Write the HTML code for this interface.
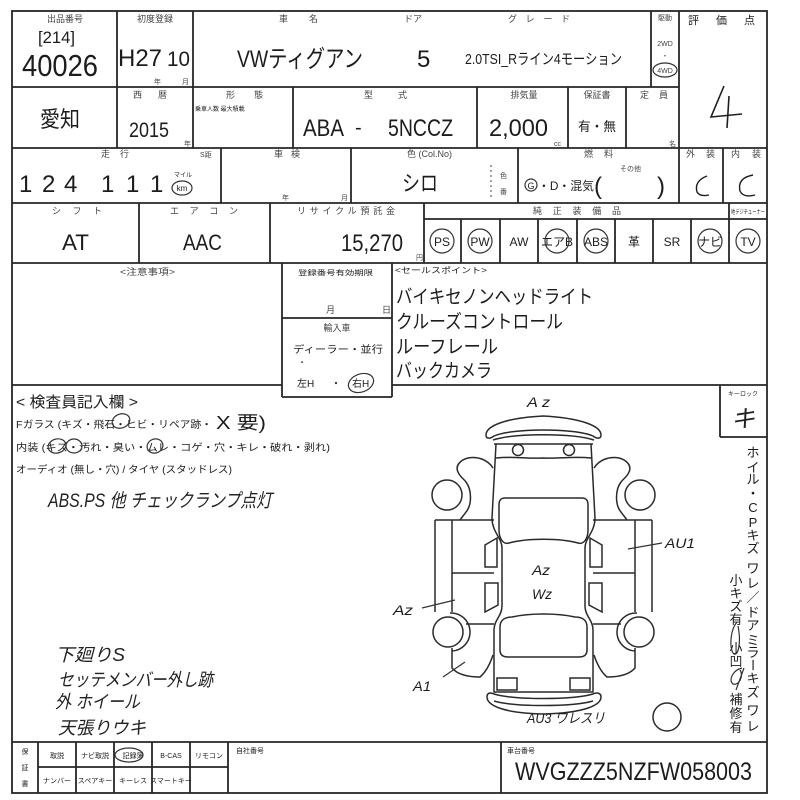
<!DOCTYPE html>
<html><head><meta charset="utf-8">
<style>
html,body{margin:0;padding:0;background:#fff;}
svg{display:block;}
text{font-family:"Liberation Sans","Noto Sans CJK JP",sans-serif;fill:#1c1c1c;}
.h{font-size:9px;fill:#444;}
.s{font-size:7px;fill:#444;}
.hw{font-style:italic;fill:#222;}
.ln{stroke:#262626;stroke-width:1.8;fill:none;}
.tn{stroke:#333;stroke-width:1.2;fill:none;}
.car{stroke:#2a2a2a;stroke-width:1.5;fill:none;}
</style></head>
<body>
<svg width="800" height="800" viewBox="0 0 800 800" xmlns="http://www.w3.org/2000/svg">
<rect width="800" height="800" fill="#fff"/>

<!-- ===== GRID ===== -->
<g class="ln">
<rect x="12" y="11" width="755" height="782"/>
<line x1="12" y1="87" x2="679" y2="87"/>
<line x1="12" y1="148" x2="767" y2="148"/>
<line x1="12" y1="203" x2="767" y2="203"/>
<line x1="424" y1="219" x2="767" y2="219"/>
<line x1="12" y1="263" x2="767" y2="263"/>
<line x1="12" y1="385" x2="282" y2="385"/>
<line x1="392" y1="385" x2="767" y2="385"/>
<line x1="282" y1="318" x2="392" y2="318"/>
<line x1="282" y1="397" x2="392" y2="397"/>
<line x1="720" y1="437" x2="767" y2="437"/>
<line x1="12" y1="742" x2="767" y2="742"/>
<line x1="38" y1="767" x2="228" y2="767"/>
<!-- row1 -->
<line x1="117" y1="11" x2="117" y2="148"/>
<line x1="193" y1="11" x2="193" y2="148"/>
<line x1="651" y1="11" x2="651" y2="87"/>
<line x1="679" y1="11" x2="679" y2="203"/>
<!-- row2 -->
<line x1="293" y1="87" x2="293" y2="148"/>
<line x1="477" y1="87" x2="477" y2="148"/>
<line x1="568" y1="87" x2="568" y2="148"/>
<line x1="626" y1="87" x2="626" y2="148"/>
<!-- row3 -->
<line x1="221" y1="148" x2="221" y2="203"/>
<line x1="351" y1="148" x2="351" y2="203"/>
<line x1="518" y1="148" x2="518" y2="203"/>
<line x1="723" y1="148" x2="723" y2="203"/>
<!-- row4 -->
<line x1="139" y1="203" x2="139" y2="263"/>
<line x1="270" y1="203" x2="270" y2="263"/>
<line x1="424" y1="203" x2="424" y2="263"/>
<line x1="461" y1="219" x2="461" y2="263"/>
<line x1="500" y1="219" x2="500" y2="263"/>
<line x1="538" y1="219" x2="538" y2="263"/>
<line x1="577" y1="219" x2="577" y2="263"/>
<line x1="615" y1="219" x2="615" y2="263"/>
<line x1="653" y1="219" x2="653" y2="263"/>
<line x1="691" y1="219" x2="691" y2="263"/>
<line x1="729" y1="203" x2="729" y2="263"/>
<!-- row5 -->
<line x1="282" y1="263" x2="282" y2="397"/>
<line x1="392" y1="263" x2="392" y2="397"/>
<line x1="720" y1="385" x2="720" y2="437"/>
<!-- bottom -->
<line x1="38" y1="742" x2="38" y2="793"/>
<line x1="76" y1="742" x2="76" y2="793"/>
<line x1="114" y1="742" x2="114" y2="793"/>
<line x1="152" y1="742" x2="152" y2="793"/>
<line x1="190" y1="742" x2="190" y2="793"/>
<line x1="228" y1="742" x2="228" y2="793"/>
<line x1="501" y1="742" x2="501" y2="793"/>
</g>
<line x1="491" y1="165" x2="491" y2="200" stroke="#444" stroke-width="1" stroke-dasharray="2,3"/>

<!-- ===== ROW 1 ===== -->
<text class="h" x="65" y="22" text-anchor="middle">出品番号</text>
<text x="38" y="43" font-size="17" textLength="37" lengthAdjust="spacingAndGlyphs">[214]</text>
<text x="22" y="76" font-size="31" textLength="76" lengthAdjust="spacingAndGlyphs">40026</text>
<text class="h" x="155" y="22" text-anchor="middle">初度登録</text>
<text x="118" y="66" font-size="24" textLength="44" lengthAdjust="spacingAndGlyphs">H27</text>
<text x="167" y="66" font-size="21" textLength="23" lengthAdjust="spacingAndGlyphs">10</text>
<text class="s" x="154" y="84">年</text>
<text class="s" x="182" y="84">月</text>
<text class="h" x="279" y="22">車</text>
<text class="h" x="309" y="22">名</text>
<text x="237" y="67" font-size="24" textLength="126" lengthAdjust="spacingAndGlyphs">VWティグアン</text>
<text class="h" x="404" y="22">ドア</text>
<text x="417" y="67" font-size="24">5</text>
<text class="h" x="508" y="22" textLength="62" lengthAdjust="spacing">グレード</text>
<text x="465" y="64" font-size="15" textLength="157" lengthAdjust="spacingAndGlyphs">2.0TSI_Rライン4モーション</text>
<text class="s" x="665" y="20" text-anchor="middle">駆動</text>
<text class="s" x="665" y="46" text-anchor="middle">2WD</text>
<text class="s" x="665" y="58" text-anchor="middle">・</text>
<text class="s" x="665" y="73" text-anchor="middle">4WD</text>
<ellipse cx="665" cy="70" rx="12" ry="7" class="tn"/>
<text x="688" y="24" font-size="11" fill="#444">評</text>
<text x="716" y="24" font-size="11" fill="#444">価</text>
<text x="744" y="24" font-size="11" fill="#444">点</text>
<path d="M724,86 L711,117 L742,114 M729,96 L727,128" stroke="#1e1e1e" stroke-width="1.6" fill="none"/>

<!-- ===== ROW 2 ===== -->
<text x="40" y="127" font-size="22" textLength="40" lengthAdjust="spacingAndGlyphs">愛知</text>
<text class="h" x="133" y="98">西</text>
<text class="h" x="158" y="98">暦</text>
<text x="129" y="137" font-size="21" textLength="40" lengthAdjust="spacingAndGlyphs">2015</text>
<text class="s" x="184" y="146">年</text>
<text class="h" x="226" y="98">形</text>
<text class="h" x="254" y="98">態</text>
<text x="195" y="111" font-size="6" fill="#444">乗車人数 最大積載</text>
<text class="h" x="364" y="98">型</text>
<text class="h" x="398" y="98">式</text>
<text x="303" y="136" font-size="24" textLength="41" lengthAdjust="spacingAndGlyphs">ABA</text>
<text x="355" y="134" font-size="20">-</text>
<text x="388" y="136" font-size="24" textLength="65" lengthAdjust="spacingAndGlyphs">5NCCZ</text>
<text class="h" x="524" y="98" text-anchor="middle">排気量</text>
<text x="489" y="136" font-size="24" textLength="59" lengthAdjust="spacingAndGlyphs">2,000</text>
<text class="s" x="554" y="146">cc</text>
<text class="h" x="597" y="98" text-anchor="middle">保証書</text>
<text x="578" y="131" font-size="13" textLength="38" lengthAdjust="spacingAndGlyphs">有・無</text>
<text class="h" x="640" y="98">定</text>
<text class="h" x="659" y="98">員</text>
<text class="s" x="669" y="146">名</text>

<!-- ===== ROW 3 ===== -->
<text class="h" x="101" y="157">走</text>
<text class="h" x="120" y="157">行</text>
<text class="s" x="200" y="157">S距</text>
<text x="19 42 64 101 126 150" y="192" font-size="24">124111</text>
<text x="183" y="177" font-size="6" fill="#444" text-anchor="middle">マイル</text>
<ellipse cx="182" cy="188" rx="10" ry="7" class="tn"/>
<text x="182" y="191" font-size="8" text-anchor="middle">km</text>
<text class="h" x="274" y="157">車</text>
<text class="h" x="291" y="157">検</text>
<text class="s" x="282" y="200">年</text>
<text class="s" x="341" y="200">月</text>
<text class="h" x="407" y="157">色 (Col.No)</text>
<text x="402" y="191" font-size="22" textLength="36" lengthAdjust="spacingAndGlyphs">シロ</text>
<text class="s" x="500" y="178">色</text>
<text class="s" x="500" y="194">番</text>
<text class="h" x="584" y="157">燃</text>
<text class="h" x="604" y="157">料</text>
<circle cx="531" cy="185" r="6" class="tn"/>
<text x="531" y="189" font-size="9" text-anchor="middle">G</text>
<text x="538" y="190" font-size="12" textLength="56" lengthAdjust="spacingAndGlyphs">・D・混気</text>
<text x="594" y="194" font-size="24">(</text>
<text class="s" x="620" y="171">その他</text>
<text x="657" y="194" font-size="24">)</text>
<text class="h" x="686" y="157">外</text>
<text class="h" x="706" y="157">装</text>
<text class="h" x="731" y="157">内</text>
<text class="h" x="752" y="157">装</text>
<path d="M707,176 Q694,181 697,192 Q700,197 709,195" stroke="#1e1e1e" stroke-width="1.4" fill="none"/>
<path d="M753,175 Q737,178 740,191 Q743,198 755,195" stroke="#1e1e1e" stroke-width="1.4" fill="none"/>

<!-- ===== ROW 4 ===== -->
<text class="h" x="52" y="214" textLength="50" lengthAdjust="spacing">シフト</text>
<text x="62" y="250" font-size="22" textLength="27" lengthAdjust="spacingAndGlyphs">AT</text>
<text class="h" x="170" y="214" textLength="68" lengthAdjust="spacing">エアコン</text>
<text x="183" y="250" font-size="22" textLength="39" lengthAdjust="spacingAndGlyphs">AAC</text>
<text class="h" x="297" y="214" textLength="98" lengthAdjust="spacing">リサイクル預託金</text>
<text x="341" y="251" font-size="24" textLength="62" lengthAdjust="spacingAndGlyphs">15,270</text>
<text class="s" x="416" y="260">円</text>
<text class="h" x="533" y="214" textLength="88" lengthAdjust="spacing">純正装備品</text>
<text x="731" y="214" font-size="6" fill="#444" textLength="34" lengthAdjust="spacingAndGlyphs">地デジチューナー</text>
<g font-size="12" text-anchor="middle">
<text x="442" y="246">PS</text>
<text x="480" y="246">PW</text>
<text x="519" y="246">AW</text>
<text x="557" y="246">エアB</text>
<text x="596" y="246">ABS</text>
<text x="634" y="246">革</text>
<text x="672" y="246">SR</text>
<text x="710" y="246">ナビ</text>
<text x="748" y="246">TV</text>
</g>
<g class="tn" stroke-width="1.4">
<circle cx="442" cy="241" r="12"/>
<circle cx="480" cy="241" r="12"/>
<circle cx="557" cy="241" r="12"/>
<circle cx="596" cy="241" r="12"/>
<circle cx="710" cy="241" r="12"/>
<circle cx="748" cy="241" r="12"/>
</g>

<!-- ===== ROW 5 ===== -->
<text class="h" x="120" y="275" textLength="55" lengthAdjust="spacingAndGlyphs">&lt;注意事項&gt;</text>
<text x="298" y="275" font-size="7" fill="#444" textLength="75" lengthAdjust="spacingAndGlyphs">登録番号有効期限</text>
<text class="h" x="326" y="313">月</text>
<text class="h" x="382" y="313">日</text>
<text class="h" x="337" y="331" text-anchor="middle">輸入車</text>
<text x="293" y="353" font-size="10" textLength="90" lengthAdjust="spacingAndGlyphs">ディーラー・並行</text>
<text x="298" y="365" font-size="8">・</text>
<text x="297" y="387" font-size="10">左H</text>
<text x="331" y="387" font-size="10">・</text>
<text x="352" y="387" font-size="10">右H</text>
<ellipse cx="361" cy="383" rx="13" ry="9" class="tn" transform="rotate(-20 361 383)"/>
<text x="395" y="273" font-size="8" fill="#333" textLength="92" lengthAdjust="spacingAndGlyphs">&lt;セールスポイント&gt;</text>
<g font-size="19">
<text x="396" y="303" textLength="197" lengthAdjust="spacingAndGlyphs">バイキセノンヘッドライト</text>
<text x="396" y="328" textLength="167" lengthAdjust="spacingAndGlyphs">クルーズコントロール</text>
<text x="396" y="353" textLength="102" lengthAdjust="spacingAndGlyphs">ルーフレール</text>
<text x="396" y="377" textLength="96" lengthAdjust="spacingAndGlyphs">バックカメラ</text>
</g>

<!-- ===== INSPECTOR AREA ===== -->
<text x="16" y="407" font-size="15" textLength="122" lengthAdjust="spacingAndGlyphs">&lt; 検査員記入欄 &gt;</text>
<text x="16" y="428" font-size="10" textLength="196" lengthAdjust="spacingAndGlyphs">Fガラス (キズ・飛石・ヒビ・リペア跡・</text>
<text x="216" y="429" font-size="18" textLength="50" lengthAdjust="spacingAndGlyphs">X 要)</text>
<text x="16" y="451" font-size="10" textLength="314" lengthAdjust="spacingAndGlyphs">内装 (キズ・汚れ・臭い・ムレ・コゲ・穴・キレ・破れ・剥れ)</text>
<text x="16" y="473" font-size="10" textLength="216" lengthAdjust="spacingAndGlyphs">オーディオ (無し・穴) / タイヤ (スタッドレス)</text>
<g class="tn" stroke="#222">
<ellipse cx="121" cy="421" rx="9" ry="7" transform="rotate(-20 121 421)"/>
<ellipse cx="57" cy="446" rx="9" ry="7" transform="rotate(-15 57 446)"/>
<ellipse cx="74" cy="446" rx="8" ry="7"/>
<ellipse cx="155" cy="446" rx="8" ry="7" transform="rotate(-20 155 446)"/>
</g>
<text class="hw" x="48" y="507" font-size="19" textLength="224" lengthAdjust="spacingAndGlyphs">ABS.PS 他 チェックランプ点灯</text>
<text class="hw" x="55" y="661" font-size="18" textLength="70" lengthAdjust="spacingAndGlyphs">下廻りS</text>
<text class="hw" x="58" y="686" font-size="18" textLength="155" lengthAdjust="spacingAndGlyphs">セッテメンバー外し跡</text>
<text class="hw" x="55" y="708" font-size="18" textLength="85" lengthAdjust="spacingAndGlyphs">外 ホイール</text>
<text class="hw" x="58" y="734" font-size="18" textLength="88" lengthAdjust="spacingAndGlyphs">天張りウキ</text>

<!-- key lock -->
<text x="743" y="396" font-size="6" fill="#444" text-anchor="middle">キーロック</text>
<text class="hw" x="743" y="427" font-size="24" text-anchor="middle">キ</text>

<!-- vertical notes -->
<g font-size="13" text-anchor="middle">
<text x="753" y="457">ホ</text>
<text x="753" y="472">イ</text>
<text x="753" y="484">ル</text>
<text x="753" y="498">・</text>
<text x="753" y="512">C</text>
<text x="753" y="527">P</text>
<text x="753" y="540">キ</text>
<text x="753" y="553">ズ</text>
<text x="753" y="573">ワ</text>
<text x="753" y="588">レ</text>
<text x="753" y="602">／</text>
<text x="753" y="617">ド</text>
<text x="753" y="630">ア</text>
<text x="753" y="645">ミ</text>
<text x="753" y="657">ラ</text>
<text x="753" y="670" transform="rotate(90 753 665)">ー</text>
<text x="753" y="683">キ</text>
<text x="753" y="697">ズ</text>
<text x="753" y="715">ワ</text>
<text x="753" y="731">レ</text>
<text x="736" y="585">小</text>
<text x="736" y="598">キ</text>
<text x="736" y="611">ズ</text>
<text x="736" y="624">有</text>
<text x="736" y="653">小</text>
<text x="736" y="666">凹</text>
<text x="736" y="704">補</text>
<text x="736" y="718">修</text>
<text x="736" y="732">有</text>
</g>
<path d="M737,622 C730,630 729,650 734,654 C739,656 741,640 738,626" class="tn" stroke="#222"/>
<path d="M742,668 C733,670 728,680 733,684 C739,686 744,676 740,670 M736,690 L744,668" class="tn" stroke="#222"/>

<!-- ===== CAR DIAGRAM ===== -->
<g class="car" id="half">
<path d="M435,520 L494,520 M435,520 L435,612 M452,520 L452,612 M452,573 L494,573 M466,624 L494,624"/>
<circle cx="447" cy="495" r="15"/>
<path d="M493,468 C488,460 478,456 468,458 C460,460 455,466 458,472 C460,477 464,479 466,482 C472,490 472,505 466,512 C464,515 462,517 460,520"/>
<circle cx="448" cy="632" r="15"/>
<path d="M450,613 A19,19 0 0 1 452,651"/>
<path d="M452,648 L452,668 C458,675 470,677 480,677 C486,672 490,664 493,655"/>
<polygon points="485,545 497,538 497,567 485,567"/>
<polygon points="485,583 498,583 498,605 485,612"/>
</g>
<g class="car" transform="translate(1087,0) scale(-1,1)">
<path d="M435,520 L494,520 M435,520 L435,612 M452,520 L452,612 M452,573 L494,573 M466,624 L494,624"/>
<circle cx="447" cy="495" r="15"/>
<path d="M493,468 C488,460 478,456 468,458 C460,460 455,466 458,472 C460,477 464,479 466,482 C472,490 472,505 466,512 C464,515 462,517 460,520"/>
<circle cx="448" cy="632" r="15"/>
<path d="M450,613 A19,19 0 0 1 452,651"/>
<path d="M452,648 L452,668 C458,675 470,677 480,677 C486,672 490,664 493,655"/>
<polygon points="485,545 497,538 497,567 485,567"/>
<polygon points="485,583 498,583 498,605 485,612"/>
</g>
<g class="car">
<path d="M486,435 C486,426 505,418 543,416 C581,418 601,426 601,435 C601,439 597,439 593,436 C575,428 512,428 494,436 C490,439 486,439 486,435 Z"/>
<path d="M493,440 C515,433 572,433 594,440"/>
<path d="M494,444 L593,444"/>
<path d="M496,444 L492,518 C492,532 502,538 502,548 L502,606 C502,616 494,620 494,630 L494,692 L593,692 L593,630 C593,620 585,616 585,606 L585,548 C585,538 595,532 595,518 L591,444"/>
<circle cx="518" cy="450" r="5.5"/>
<circle cx="569" cy="450" r="5.5"/>
<path d="M496,458 C515,456 525,459 543,458 C560,459 572,456 591,458"/>
<path d="M505,498 L582,498 C586,498 588,500 588,505 L588,530 C588,538 584,545 578,543 C560,538 527,538 509,543 C503,545 499,538 499,530 L499,505 C499,500 501,498 505,498 Z"/>
<path d="M500,627 C500,620 505,617 512,617 C530,613 557,613 575,617 C582,617 587,620 587,627 L587,650 C587,655 584,657 579,657 L508,657 C503,657 500,655 500,650 Z"/>
<rect x="497" y="678" width="20" height="12"/>
<rect x="570" y="678" width="20" height="12"/>
<path d="M487,697 C487,693 490,692 494,694 C515,700 572,700 593,694 C597,692 601,693 601,697 C601,705 585,713 543,714 C502,713 487,705 487,697 Z"/>
<path d="M494,701 C515,707 572,707 593,701"/>
<circle cx="667" cy="717" r="14"/>
</g>
<!-- diagram marks -->
<g class="tn" stroke="#222" stroke-width="1.3">
<path d="M628,549 L662,543"/>
<path d="M422,608 L455,600"/>
<path d="M443,677 L465,662"/>
</g>
<g class="hw" font-size="14">
<text x="527" y="407" textLength="23" lengthAdjust="spacingAndGlyphs">A z</text>
<text x="532" y="575" textLength="18" lengthAdjust="spacingAndGlyphs">Az</text>
<text x="532" y="599" textLength="20" lengthAdjust="spacingAndGlyphs">Wz</text>
<text x="393" y="615" textLength="20" lengthAdjust="spacingAndGlyphs">Az</text>
<text x="413" y="691" textLength="18" lengthAdjust="spacingAndGlyphs">A1</text>
<text x="665" y="548" textLength="30" lengthAdjust="spacingAndGlyphs">AU1</text>
<text x="527" y="723" textLength="78" lengthAdjust="spacingAndGlyphs">AU3 ワレスリ</text>
</g>

<!-- ===== BOTTOM ROW ===== -->
<g font-size="7" fill="#333">
<text x="25" y="754" text-anchor="middle">保</text>
<text x="25" y="770" text-anchor="middle">証</text>
<text x="25" y="786" text-anchor="middle">書</text>
<text x="57" y="758" text-anchor="middle">取説</text>
<text x="95" y="758" text-anchor="middle">ナビ取説</text>
<text x="133" y="758" text-anchor="middle">記録簿</text>
<text x="171" y="758" text-anchor="middle">B-CAS</text>
<text x="209" y="758" text-anchor="middle">リモコン</text>
<text x="57" y="783" text-anchor="middle">ナンバー</text>
<text x="95" y="783" text-anchor="middle">スペアキー</text>
<text x="133" y="783" text-anchor="middle">キーレス</text>
<text x="171" y="783" text-anchor="middle">スマートキー</text>
<text x="236" y="753">自社番号</text>
<text x="507" y="753">車台番号</text>
</g>
<ellipse cx="129" cy="755" rx="14" ry="7" class="tn" stroke="#222" stroke-width="1.5"/>
<text x="515" y="780" font-size="25" textLength="237" lengthAdjust="spacingAndGlyphs">WVGZZZ5NZFW058003</text>
</svg>
</body></html>
